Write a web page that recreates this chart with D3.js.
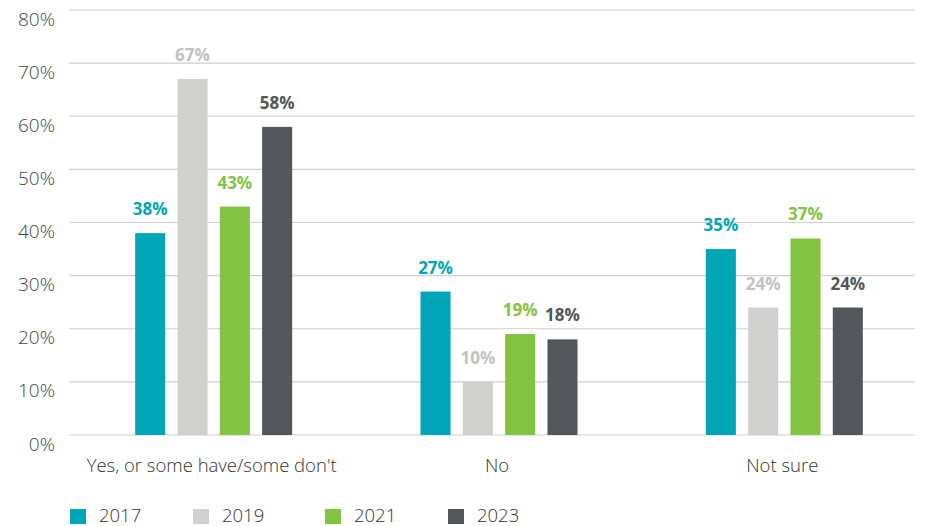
<!DOCTYPE html>
<html>
<head>
<meta charset="utf-8">
<script src="https://cdn.jsdelivr.net/npm/d3@7/dist/d3.min.js"></script>
<style>
  html, body { margin: 0; padding: 0; background: #fff; }
  svg { display: block; font-family: "Open Sans", sans-serif; }
</style>
</head>
<body>
<svg id="chart" width="937" height="526"></svg>
<script>
const categories = ["Yes, or some have/some don't", "No", "Not sure"];
const seriesNames = ["2017", "2019", "2021", "2023"];
const values2017 = [38, 27, 35];
const values2019 = [67, 10, 24];
const values2021 = [43, 19, 37];
const values2023 = [58, 18, 24];
const yTicks = [0, 10, 20, 30, 40, 50, 60, 70, 80];

const seriesValues = [values2017, values2019, values2021, values2023];
const barColors = ["#00A6B8", "#D0D0CE", "#82C341", "#53565A"];
const labelColors = ["#00A6B8", "#C2C2C2", "#82C341", "#53565A"];

const svg = d3.select("#chart");
const y = d3.scaleLinear().domain([0, 80]).range([435, 10]);
const x0 = d3.scaleBand().domain(categories).range([71, 927]);
const groupW = 157;
const x1 = d3.scaleBand().domain(seriesNames).range([0, groupW]).paddingInner(0.29).paddingOuter(0);

// gridlines
svg.append("g").selectAll("line").data(yTicks).join("line")
  .attr("x1", 69).attr("x2", 915)
  .attr("y1", d => y(d)).attr("y2", d => y(d))
  .attr("stroke", "#cfcfcf").attr("stroke-width", 1.2);

// y tick labels
svg.append("g").selectAll("text").data(yTicks).join("text")
  .attr("x", 55).attr("y", d => y(d) + 15.5)
  .attr("text-anchor", "end")
  .attr("font-size", 19).attr("font-weight", 300).attr("fill", "#444")
  .text(d => d + "%");

// bars
const groups = svg.append("g").selectAll("g").data(categories).join("g")
  .attr("transform", c => `translate(${x0(c) + (x0.bandwidth() - groupW) / 2},0)`);

seriesNames.forEach((s, si) => {
  groups.append("rect")
    .attr("x", x1(s))
    .attr("width", x1.bandwidth())
    .attr("y", (c, ci) => y(seriesValues[si][ci]))
    .attr("height", (c, ci) => y(0) - y(seriesValues[si][ci]))
    .attr("fill", barColors[si]);
  groups.append("text")
    .attr("x", x1(s) + x1.bandwidth() / 2)
    .attr("y", (c, ci) => y(seriesValues[si][ci]) - 18)
    .attr("text-anchor", "middle")
    .attr("font-size", 17).attr("font-weight", 700)
    .attr("fill", labelColors[si])
    .text((c, ci) => seriesValues[si][ci] + "%");
});

// category labels
svg.append("g").selectAll("text").data(categories).join("text")
  .attr("x", c => x0(c) + x0.bandwidth() / 2 - 2)
  .attr("y", 472)
  .attr("text-anchor", "middle")
  .attr("font-size", 18.5).attr("font-weight", 300).attr("fill", "#333")
  .text(c => c);

// legend
const legendX = [70, 193, 325, 448];
const legend = svg.append("g").selectAll("g").data(seriesNames).join("g")
  .attr("transform", (d, i) => `translate(${legendX[i]},509)`);
legend.append("rect").attr("width", 16).attr("height", 15).attr("fill", (d, i) => barColors[i]);
legend.append("text").attr("x", 29).attr("y", 12.5)
  .attr("font-size", 18.5).attr("font-weight", 300).attr("fill", "#333")
  .text(d => d);
</script>
</body>
</html>
